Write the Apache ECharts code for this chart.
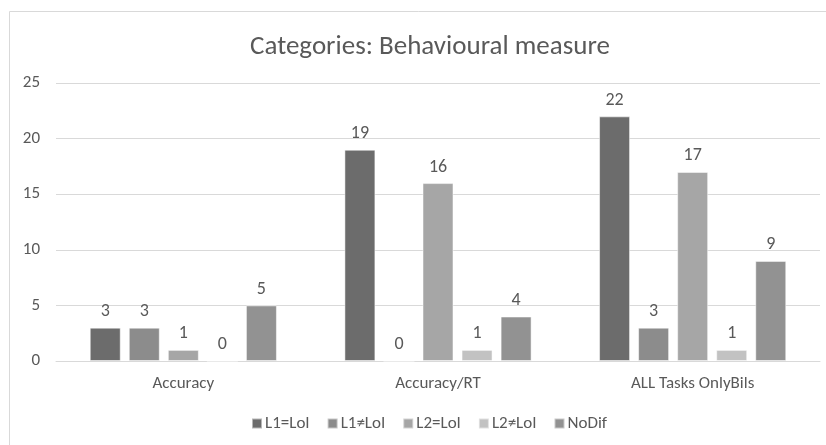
<!DOCTYPE html>
<html>
<head>
<meta charset="utf-8">
<script src="https://cdn.jsdelivr.net/npm/echarts@6/dist/echarts.min.js"></script>
<style>
  html, body { margin: 0; padding: 0; background: #fff; }
  #chart { width: 826px; height: 445px; }
</style>
</head>
<body>
<div id="chart"></div>
<script>
// Behavioural measure counts per category and outcome group
const categories = ['Accuracy', 'Accuracy/RT', 'ALL Tasks OnlyBils'];
const seriesNames = ['L1=LoI', 'L1≠LoI', 'L2=LoI', 'L2≠LoI', 'NoDif'];
const l1Equal = [3, 19, 22];
const l1NotEqual = [3, 0, 3];
const l2Equal = [1, 16, 17];
const l2NotEqual = [0, 1, 1];
const noDif = [5, 4, 9];
const yTicks = [0, 5, 10, 15, 20, 25];

const seriesValues = [l1Equal, l1NotEqual, l2Equal, l2NotEqual, noDif];
const colors = ['#6c6c6c', '#8c8c8c', '#a6a6a6', '#c2c2c2', '#929292'];
const FONT = "Carlito, 'Liberation Sans Narrow', 'Open Sans', sans-serif";
const TEXT = '#595959';

const chart = echarts.init(document.getElementById('chart'));
chart.setOption({
  animation: false,
  color: colors,
  textStyle: { fontFamily: FONT },
  title: {
    text: 'Categories: Behavioural measure',
    left: 425, textAlign: 'center', top: 29,
    textStyle: { fontFamily: FONT, fontSize: 27, fontWeight: 'normal', color: TEXT }
  },
  graphic: [{
    type: 'rect', silent: true, z: -1,
    shape: { x: 9.5, y: 11.5, width: 840, height: 460 },
    style: { fill: 'none', stroke: '#d9d9d9', lineWidth: 1 }
  }],
  legend: {
    data: seriesNames,
    bottom: 8, left: 246,
    itemWidth: 10, itemHeight: 10, itemGap: 17,
    icon: 'rect',
    textStyle: { fontFamily: FONT, fontSize: 17, color: TEXT, padding: [0, 0, 0, -2] }
  },
  grid: { left: 56, right: 6, top: 83, bottom: 84, containLabel: false },
  xAxis: {
    type: 'category', data: categories,
    axisLine: { lineStyle: { color: '#d9d9d9', width: 1 } },
    axisTick: { show: false },
    axisLabel: { fontFamily: FONT, fontSize: 17, color: TEXT, margin: 14 }
  },
  yAxis: {
    type: 'value', min: yTicks[0], max: yTicks[yTicks.length - 1], interval: 5,
    axisLine: { show: false }, axisTick: { show: false },
    splitLine: { lineStyle: { color: '#d9d9d9', width: 1 } },
    axisLabel: { fontFamily: FONT, fontSize: 17, color: TEXT, margin: 16 }
  },
  series: seriesNames.map((name, i) => ({
    name, type: 'bar',
    data: seriesValues[i],
    barGap: '26%', barCategoryGap: '26.5%',
    itemStyle: { color: colors[i], borderColor: 'rgba(255,255,255,0.5)', borderWidth: 1 },
    label: {
      show: true, position: 'top', distance: 7,
      fontFamily: FONT, fontSize: 18, color: TEXT
    }
  }))
});
</script>
</body>
</html>
